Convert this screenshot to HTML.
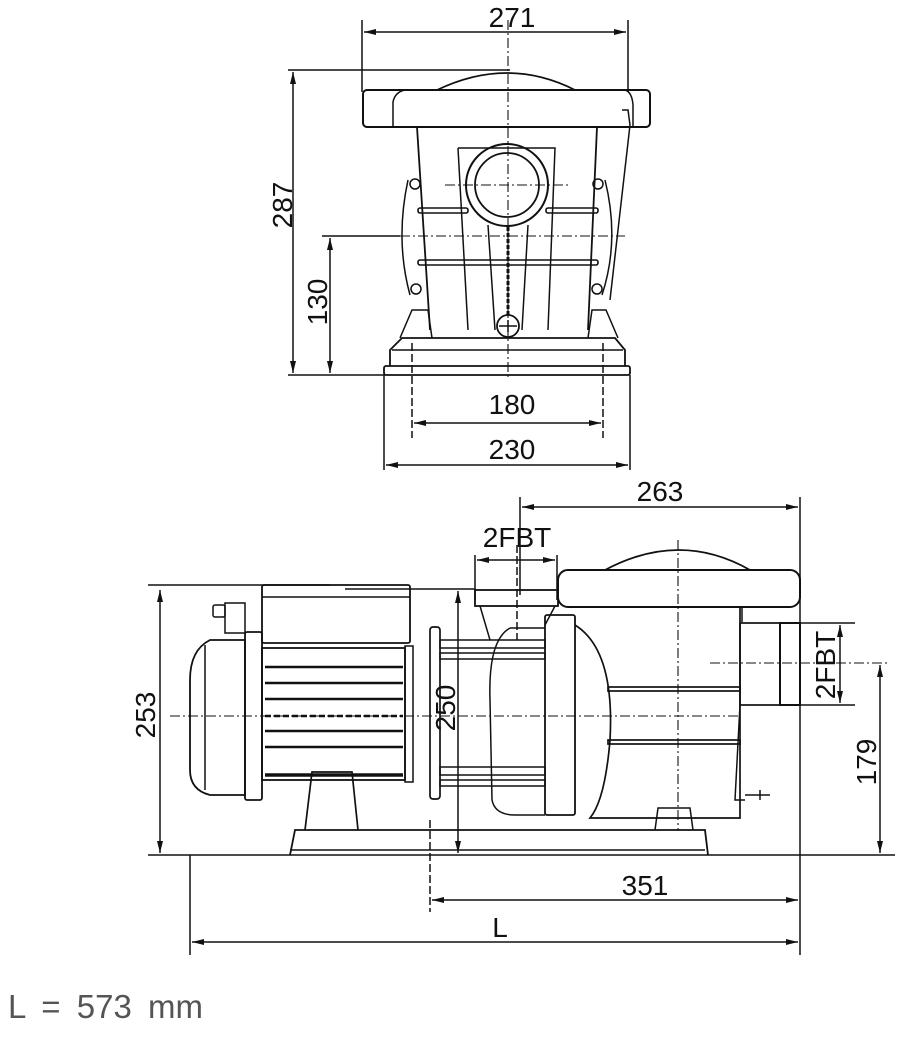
<!DOCTYPE html>
<html><head><meta charset="utf-8"><style>
html,body{margin:0;padding:0;background:#fff;width:900px;height:1037px;overflow:hidden}
svg{display:block}
text{font-family:"Liberation Sans",sans-serif;fill:#111}
</style></head><body>
<svg width="900" height="1037" viewBox="0 0 900 1037" xmlns="http://www.w3.org/2000/svg">
<defs>
<marker id="a" viewBox="0 0 12 6" refX="12" refY="3" markerWidth="13" markerHeight="6" orient="auto-start-reverse" markerUnits="userSpaceOnUse"><path d="M0,0 L12,3 L0,6 z" fill="#111"/></marker>
</defs>
<g stroke="#111" stroke-width="1.5" fill="none">
<!-- ===== TOP VIEW ===== -->
<line x1="362" y1="20" x2="362" y2="92"/><line x1="628" y1="20" x2="628" y2="92"/>
<line x1="364" y1="32" x2="626" y2="32" marker-start="url(#a)" marker-end="url(#a)"/>
<line x1="288" y1="70" x2="510" y2="70"/>
<line x1="293" y1="72" x2="293" y2="373" marker-start="url(#a)" marker-end="url(#a)"/>
<line x1="288" y1="375" x2="385" y2="375"/>
<line x1="322" y1="236" x2="400" y2="236"/>
<line x1="330" y1="238" x2="330" y2="373" marker-start="url(#a)" marker-end="url(#a)"/>
<line x1="508" y1="20" x2="508" y2="378" stroke-dasharray="10,3,2,3" stroke-width="1.1"/>
<line x1="400" y1="236" x2="625" y2="236" stroke-dasharray="10,3,2,3" stroke-width="1.1"/>
<line x1="445" y1="185" x2="570" y2="185" stroke-dasharray="10,3,2,3" stroke-width="1.1"/>
<path d="M437,90 Q508,56 575,90" stroke-width="1.8"/>
<rect x="363" y="90" width="287" height="37" rx="4" stroke-width="2"/>
<path d="M393,127 L393,102 Q395,92 405,90 M625,90 Q632,92 633,105 L633,127"/>
<path d="M622,110 L628,110 L630,125 L610,300" />
<path d="M417,127 L430,330 M597,127 L588,330" stroke-width="1.8"/>
<path d="M458,148 L555,148 L548,330 M458,148 L468,330" />
<path d="M488,225 L495,330 M528,225 L522,330"/>
<circle cx="507" cy="185" r="41" stroke-width="2"/>
<circle cx="507" cy="185" r="32" stroke-width="1.8"/>
<path d="M408,180 Q395,240 410,295 M605,180 Q620,240 602,295"/>
<circle cx="415" cy="184" r="5"/><circle cx="598" cy="184" r="5"/>
<circle cx="416" cy="289" r="5"/><circle cx="597" cy="289" r="5"/>
<rect x="418" y="208" width="50" height="5" rx="2" stroke-width="1.6"/>
<rect x="546" y="208" width="52" height="5" rx="2" stroke-width="1.6"/>
<rect x="418" y="260" width="180" height="5" rx="2" stroke-width="1.6"/>
<line x1="508" y1="227" x2="508" y2="315" stroke-width="3" stroke-dasharray="4,2"/>
<circle cx="508" cy="326" r="11" stroke-width="1.8"/>
<path d="M499,326 L517,326 M508,320 L508,332"/>
<path d="M400,338 L412,310 L428,310 L432,338 M618,338 L606,310 L592,310 L588,338"/>
<path d="M390,366 L390,350 L402,338 L615,338 L625,350 L625,366" stroke-width="1.8"/>
<line x1="392" y1="350" x2="623" y2="350"/>
<rect x="384" y="366" width="246" height="9" rx="2" stroke-width="1.8"/>
<line x1="412" y1="343" x2="412" y2="438" stroke-dasharray="8,3"/>
<line x1="603" y1="343" x2="603" y2="438" stroke-dasharray="8,3"/>
<line x1="414" y1="423" x2="601" y2="423" marker-start="url(#a)" marker-end="url(#a)"/>
<line x1="384" y1="375" x2="384" y2="470"/><line x1="630" y1="375" x2="630" y2="470"/>
<line x1="386" y1="465" x2="628" y2="465" marker-start="url(#a)" marker-end="url(#a)"/>

<!-- ===== SIDE VIEW ===== -->
<line x1="520" y1="497" x2="520" y2="595"/>
<line x1="800" y1="497" x2="800" y2="955"/>
<line x1="522" y1="507" x2="798" y2="507" marker-start="url(#a)" marker-end="url(#a)"/>
<line x1="475" y1="555" x2="475" y2="600"/><line x1="557" y1="555" x2="557" y2="600"/>
<line x1="477" y1="560" x2="555" y2="560" marker-start="url(#a)" marker-end="url(#a)"/>
<line x1="517" y1="545" x2="517" y2="640" stroke-dasharray="8,3"/>
<path d="M605,570 Q680,530 750,570" stroke-width="1.8"/>
<rect x="558" y="570" width="242" height="37" rx="10" stroke-width="2"/>
<line x1="678" y1="540" x2="678" y2="830" stroke-dasharray="10,3,2,3" stroke-width="1.1"/>
<rect x="475" y="590" width="83" height="16" stroke-width="1.8"/>
<path d="M480,606 L490,640 M555,606 L545,625"/>
<line x1="148" y1="585" x2="330" y2="585"/>
<line x1="160" y1="590" x2="160" y2="853" marker-start="url(#a)" marker-end="url(#a)"/>
<line x1="345" y1="589" x2="475" y2="589"/>
<line x1="458" y1="591" x2="458" y2="853" marker-start="url(#a)" marker-end="url(#a)"/>
<rect x="262" y="585" width="148" height="58" rx="2" stroke-width="1.8"/>
<line x1="262" y1="597" x2="410" y2="597"/>
<rect x="213" y="605" width="12" height="12" rx="2"/>
<rect x="225" y="603" width="20" height="30"/>
<path d="M245,640 L210,640 Q190,650 190,680 L190,770 Q190,790 210,795 L245,795 Z" stroke-width="1.8"/>
<line x1="205" y1="645" x2="205" y2="790"/>
<rect x="245" y="632" width="17" height="168" rx="2" stroke-width="1.8"/>
<rect x="262" y="648" width="143" height="132" stroke-width="1.8"/>
<rect x="405" y="646" width="8" height="136"/>
<g stroke-width="2.4">
<line x1="265" y1="667" x2="403" y2="667"/><line x1="265" y1="683" x2="403" y2="683"/>
<line x1="265" y1="699" x2="403" y2="699"/><line x1="265" y1="731" x2="403" y2="731"/>
<line x1="265" y1="747" x2="403" y2="747"/><line x1="265" y1="775" x2="403" y2="775" stroke-width="3.5"/>
</g>
<line x1="265" y1="716" x2="403" y2="716" stroke-width="2.5" stroke-dasharray="6,3"/>
<line x1="170" y1="716" x2="740" y2="716" stroke-dasharray="10,3,2,3" stroke-width="1.1"/>
<path d="M305,830 L312,772 L352,772 L358,830" stroke-width="1.7"/>
<path d="M290,855 L295,830 L705,830 L708,855" stroke-width="1.8"/>
<line x1="290" y1="850" x2="705" y2="850"/>
<rect x="430" y="627" width="10" height="172" rx="3" stroke-width="1.7"/>
<rect x="440" y="640" width="105" height="8"/><rect x="440" y="653" width="105" height="6"/>
<rect x="440" y="767" width="105" height="8"/><rect x="440" y="780" width="105" height="6"/>
<path d="M510,628 Q488,640 490,700 L492,800 Q495,815 515,815 L545,815"/>
<line x1="510" y1="628" x2="545" y2="628"/>
<rect x="545" y="615" width="30" height="200" rx="2" stroke-width="1.8"/>
<path d="M575,625 Q615,650 610,740 Q605,800 590,818 L740,818 L740,607" stroke-width="1.7"/>
<line x1="742" y1="607" x2="742" y2="622"/>
<rect x="608" y="687" width="132" height="4" stroke-width="1.7"/>
<rect x="608" y="740" width="132" height="4" stroke-width="1.7"/>
<path d="M740,705 L735,800 L745,800"/>
<path d="M745,795 L760,795 M760,790 L760,800 M760,795 L770,795"/>
<path d="M655,830 L658,808 L690,808 L693,830"/>
<rect x="740" y="623" width="40" height="82" stroke-width="1.7"/>
<rect x="780" y="623" width="20" height="82" stroke-width="2"/>
<line x1="800" y1="623" x2="855" y2="623"/><line x1="800" y1="705" x2="855" y2="705"/>
<line x1="840" y1="625" x2="840" y2="703" marker-start="url(#a)" marker-end="url(#a)"/>
<line x1="710" y1="663" x2="890" y2="663" stroke-dasharray="10,3,2,3" stroke-width="1.1"/>
<line x1="880" y1="665" x2="880" y2="853" marker-start="url(#a)" marker-end="url(#a)"/>
<line x1="148" y1="855" x2="895" y2="855"/>
<line x1="430" y1="820" x2="430" y2="912" stroke-dasharray="8,3"/>
<line x1="432" y1="900" x2="798" y2="900" marker-start="url(#a)" marker-end="url(#a)"/>
<line x1="190" y1="855" x2="190" y2="955"/>
<line x1="192" y1="942" x2="798" y2="942" marker-start="url(#a)" marker-end="url(#a)"/>
</g>
<g font-size="28">
<text x="512" y="27" text-anchor="middle">271</text>
<text transform="translate(292,205) rotate(-90)" text-anchor="middle">287</text>
<text transform="translate(327,302) rotate(-90)" text-anchor="middle">130</text>
<text x="512" y="414" text-anchor="middle">180</text>
<text x="512" y="459" text-anchor="middle">230</text>
<text x="660" y="501" text-anchor="middle">263</text>
<text x="517" y="547" text-anchor="middle">2FBT</text>
<text transform="translate(155,715) rotate(-90)" text-anchor="middle">253</text>
<text transform="translate(455,708) rotate(-90)" text-anchor="middle">250</text>
<text transform="translate(835,665) rotate(-90)" text-anchor="middle">2FBT</text>
<text transform="translate(876,762) rotate(-90)" text-anchor="middle">179</text>
<text x="645" y="895" text-anchor="middle">351</text>
<text x="500" y="937" text-anchor="middle">L</text>
</g>
<text x="8" y="1018" font-size="33" word-spacing="7" style="fill:#555">L = 573 mm</text>
</svg>
</body></html>
